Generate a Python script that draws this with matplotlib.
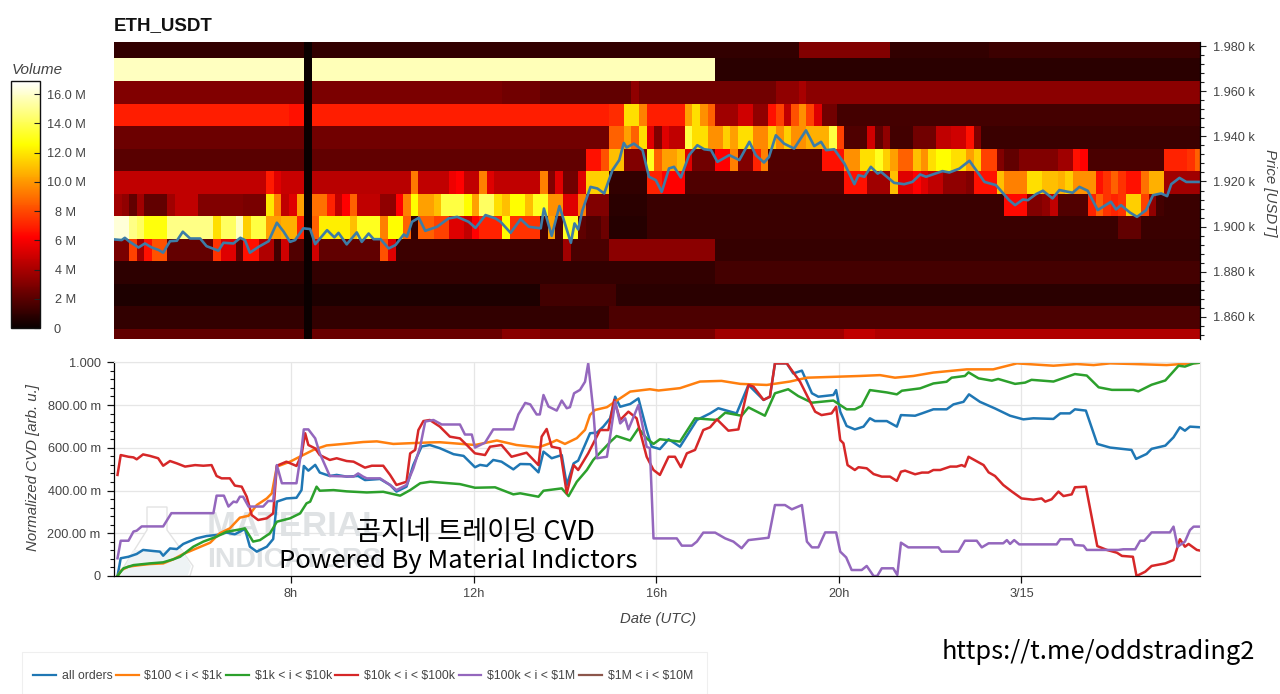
import matplotlib
matplotlib.use('Agg')
import matplotlib.pyplot as plt
from matplotlib.lines import Line2D
from matplotlib.patches import Polygon, Rectangle
from matplotlib.ticker import FixedLocator, FuncFormatter
from matplotlib.transforms import ScaledTranslation
import numpy as np

# ── heatmap: volume in M per 10 minute column, one row per price bin ──
COL_START_H = 4.123
ROW_PRICES = [1980, 1970, 1960, 1950, 1940, 1930, 1920, 1910, 1900, 1890, 1880, 1870, 1860, 1850]

V1980 = [1.0]*25 + [0] + [1.0]*64 + [3.0]*12 + [1.0]*13 + [1.3]*28
V1970 = [15.8]*25 + [0] + [15.7]*53 + [0.85]*64
V1960 = ([3.0]*25 + [0] + [2.9]*25 + [2.6]*5 + [2.2]*12 + [3.4] + [2.6]*18 + [3.4]*3 + [4.0]
         + [3.3]*52)
V1950 = ([6.9]*23 + [6.6]*2 + [0] + [6.9]*39 + [7.3]*2 + [11.8]*2 + [9.4] + [6.9]*5 + [10.2, 11.8, 9.8, 8.6]
         + [3.8]*3 + [5.0]*2 + [3.4]*2 + [6.6, 7.8, 4.6, 8.2, 9.8, 7.8, 5.4] + [2.6]*2 + [1.5]*48)
V1940 = ([2.5]*25 + [0] + [2.6]*39 + [8.6]*2 + [10.2, 8.6, 11.8, 5.4, 3.0, 5.4] + [4.6]*2 + [13.7]
         + [11.8]*2 + [9.8]*2 + [11.4, 10.2] + [11.8]*2 + [9.6]*2 + [11.4, 9.8, 11.4] + [9.8]*2
         + [10.6]*3 + [13.7, 7.8] + [1.75]*3 + [5.0, 2.15, 3.4] + [1.4]*3 + [2.6]*3 + [4.6]*2
         + [5.0]*2 + [6.6, 3.0] + [1.2]*29)
V1930 = ([2.0]*25 + [0] + [2.2]*36 + [6.6]*2 + [8.2] + [11.0]*2 + [3.0]*3 + [13.1, 8.6] + [10.2]*2
         + [11.0, 5.4] + [2.6]*3 + [6.2]*2 + [9.4] + [3.0]*2 + [7.0, 9.4] + [1.8]*7 + [6.6]*3
         + [9.8]*2 + [11.8]*2 + [13.1, 11.4, 10.2] + [8.6]*2 + [11.0, 9.8, 11.8] + [12.6]*2
         + [11.8]*2 + [10.2, 11.4] + [7.8]*2 + [3.0] + [2.2]*2 + [3.0]*5 + [3.8]*2 + [6.6, 6.2]
         + [1.6]*10 + [7.0]*3 + [7.4, 8.6])
V1920 = ([4.6]*20 + [6.8, 5.4] + [4.8]*3 + [0] + [4.4]*13 + [9.2] + [4.6]*4 + [5.8, 6.2] + [4.6]*2
         + [9.4, 5.4] + [4.6]*6 + [9.4, 3.0, 5.4] + [2.6]*2 + [5.4] + [11.4]*3 + [1.0]*5 + [7.0]*2
         + [6.2]*3 + [1.75]*21 + [6.6]*3 + [3.8]*3 + [11.0] + [5.4]*2 + [6.2, 5.4]
         + [4.6]*2 + [3.4]*3 + [3.0] + [6.6]*3 + [11.0] + [9.4]*3 + [11.8]*2 + [11.0]*2
         + [10.6, 11.4] + [9.8]*3 + [6.6, 7.4, 8.6, 7.4] + [6.6]*2 + [9.0] + [10.6]*2 + [3.8]*5)
V1910 = ([3.8, 3.4, 2.2, 3.8] + [2.2]*3 + [3.8] + [4.6]*3 + [3.0]*6 + [2.8]*3 + [12.0, 9.4, 4.6, 5.4, 10.2, 0]
         + [9.0]*2 + [7.0, 4.6, 6.2, 8.6] + [4.6]*3 + [3.4]*2 + [6.2, 9.4, 12.6, 10.2, 10.2, 11.0]
         + [13.7]*3 + [12.6, 10.2] + [14.2]*2 + [11.8, 11.0] + [12.6]*2 + [11.0] + [13.1]*2 + [9.8]*2
         + [5.4]*2 + [9.4] + [3.0]*3 + [0.8]*5 + [1.2]*47 + [6.4]*3 + [3.0]*2 + [3.4, 4.6] + [1.8]*4
         + [7.0, 8.6, 7.4, 7.0, 7.4] + [11.4]*2 + [7.8, 3.4, 1.5] + [1.2]*5)
V1900 = ([16.2]*2 + [14.8, 14.2] + [12.8]*3 + [14.8]*6 + [11.8] + [14.2]*2 + [15.8, 11.4] + [13.7]*2
         + [10.2]*2 + [10.6]*2 + [7.0, 0, 8.6] + [12.2]*4 + [11.0] + [13.1]*3 + [9.4] + [12.6]*2
         + [8.6, 1.0] + [8.6]*2 + [7.8]*2 + [5.4]*2 + [4.6, 6.2] + [7.0]*3 + [12.6] + [7.4]*4
         + [1.5, 10.2, 1.75] + [13.1]*2 + [2.15] + [1.75]*2 + [2.5] + [0.7]*5 + [1.2]*62 + [2.2]*3
         + [1.2]*8)
V1890 = ([2.8]*2 + [7.8, 3.8, 6.6] + [8.2]*2 + [2.3]*6 + [7.4] + [5.4]*2 + [2.2] + [6.6]*2 + [4.2]*2
         + [1.4, 5.0] + [1.8]*2 + [0, 5.0] + [2.2]*8 + [8.2, 5.4] + [1.3]*22 + [3.8] + [1.6]*5
         + [3.3]*14 + [1.1]*64)
V1880 = [0.9]*25 + [0] + [1.0]*53 + [1.5]*64
V1870 = [0.5]*25 + [0] + [0.5]*30 + [1.4]*10 + [0.8]*77
V1860 = [1.0]*25 + [0] + [1.0]*39 + [1.7]*78
V1850 = [2.2]*25 + [0] + [2.4]*25 + [3.2]*5 + [2.8]*23 + [3.8]*17 + [4.6]*4 + [4.2]*43

# ── price line ──
PRICE_T = [4.12, 4.29, 4.36, 4.47, 4.66, 4.80, 4.95, 5.10, 5.20, 5.35, 5.50, 5.63, 5.79, 6.01, 6.15, 6.41,
           6.52, 6.74, 6.89, 6.99, 7.10, 7.29, 7.51, 7.69, 7.84, 7.98, 8.09, 8.27, 8.42, 8.53, 8.79, 8.95,
           9.04, 9.22, 9.44, 9.55, 9.70, 9.81, 9.96, 10.14, 10.29, 10.47, 10.54, 10.65, 10.80, 10.94,
           11.20, 11.45, 11.64, 11.89, 12.04, 12.26, 12.48, 12.59, 12.81, 13.03, 13.21, 13.47, 13.54,
           13.71, 13.88, 14.13, 14.21, 14.29, 14.38, 14.56, 14.71, 14.86, 15.04, 15.19, 15.29, 15.35,
           15.51, 15.70, 15.84, 15.99, 16.12, 16.28, 16.39, 16.54, 16.72, 16.90, 17.05, 17.20, 17.34,
           17.60, 17.82, 18.04, 18.18, 18.36, 18.47, 18.62, 18.80, 19.02, 19.28, 19.46, 19.61, 19.72,
           19.90, 20.12, 20.34, 20.43, 20.56, 20.70, 20.85, 20.92, 21.21, 21.43, 21.61, 21.78, 21.91,
           22.27, 22.42, 22.64, 22.86, 23.19, 23.44, 23.73, 23.86, 24.03, 24.14, 24.32, 24.47, 24.68,
           24.83, 25.12, 25.27, 25.45, 25.67, 25.96, 26.07, 26.18, 26.37, 26.53, 26.73, 26.88, 27.06,
           27.19, 27.28, 27.46, 27.61, 27.91]
PRICE_V = [1894.3, 1894.0, 1895.0, 1893.2, 1890.7, 1892.5, 1890.7, 1889.6, 1888.4, 1893.5, 1893.7, 1897.7,
           1894.7, 1894.7, 1891.3, 1889.3, 1892.8, 1892.5, 1895.0, 1894.0, 1888.4, 1891.0, 1893.5, 1901.7,
           1897.7, 1893.2, 1894.0, 1899.2, 1898.9, 1892.2, 1898.4, 1895.2, 1897.2, 1892.1, 1897.4, 1893.2,
           1896.9, 1894.4, 1894.4, 1890.3, 1891.8, 1896.5, 1895.5, 1902.1, 1903.9, 1898.1, 1899.9, 1903.6,
           1904.3, 1902.1, 1899.4, 1905.1, 1903.6, 1902.1, 1897.2, 1903.3, 1899.9, 1899.2, 1908.0, 1895.9,
           1909.1, 1892.8, 1901.4, 1898.7, 1907.0, 1917.6, 1916.9, 1914.7, 1925.0, 1929.5, 1937.1, 1935.1,
           1936.8, 1933.9, 1922.1, 1920.6, 1915.4, 1925.8, 1926.5, 1921.8, 1931.7, 1936.1, 1934.3, 1933.9,
           1928.7, 1931.7, 1929.5, 1937.6, 1931.7, 1928.4, 1930.9, 1940.5, 1936.8, 1934.6, 1942.7, 1935.7,
           1937.6, 1933.9, 1934.3, 1928.0, 1918.8, 1922.8, 1922.1, 1926.5, 1923.5, 1924.3, 1919.4, 1918.8,
           1919.8, 1923.1, 1922.1, 1924.6, 1924.0, 1925.7, 1929.2, 1919.8, 1918.4, 1911.7, 1909.5, 1912.0,
           1911.7, 1914.4, 1915.9, 1912.5, 1916.2, 1915.0, 1917.6, 1915.9, 1907.3, 1911.0, 1907.6, 1909.5,
           1906.3, 1904.3, 1907.3, 1913.9, 1914.7, 1913.5, 1918.8, 1921.6, 1919.8, 1919.8]

# ── normalized CVD, values in milli units ──
ALL_T = [4.20, 4.27, 4.44, 4.62, 4.76, 4.98, 5.13, 5.20, 5.35, 5.50, 5.64, 5.93, 6.15, 6.37, 6.59, 6.77, 6.99,
         7.10, 7.25, 7.47, 7.61, 7.69, 7.90, 8.12, 8.23, 8.28, 8.38, 8.53, 8.63, 8.85, 9.00, 9.22, 9.47, 9.62,
         9.95, 10.17, 10.31, 10.53, 10.68, 10.86, 11.04, 11.26, 11.56, 11.78, 12.03, 12.14, 12.29, 12.43, 12.61,
         12.87, 13.02, 13.24, 13.42, 13.53, 13.71, 13.93, 14.04, 14.19, 14.29, 14.55, 14.70, 14.84, 14.99, 15.10,
         15.21, 15.43, 15.61, 15.79, 15.90, 16.08, 16.27, 16.52, 16.89, 17.18, 17.36, 17.76, 18.02, 18.35, 18.49,
         18.60, 18.86, 19.00, 19.19, 19.41, 19.55, 19.88, 19.94, 20.03, 20.17, 20.35, 20.54, 20.68, 20.79, 21.05,
         21.27, 21.36, 21.67, 21.82, 22.07, 22.36, 22.51, 22.73, 22.85, 23.09, 23.42, 23.75, 24.04, 24.26, 24.70,
         24.85, 25.06, 25.17, 25.41, 25.66, 25.94, 26.41, 26.51, 26.74, 26.85, 27.15, 27.33, 27.47, 27.58, 27.69,
         27.91]
ALL_V = [0, 83, 90, 103, 122, 117, 114, 95, 129, 126, 150, 176, 187, 192, 203, 195, 220,
         137, 114, 137, 173, 348, 363, 366, 402, 515, 493, 520, 484, 468, 473, 465, 468, 449,
         454, 426, 395, 418, 520, 606, 613, 598, 570, 562, 509, 520, 515, 543, 535,
         499, 524, 523, 485, 582, 551, 566, 426, 527, 540, 668, 671, 699, 738, 839,
         792, 805, 831, 683, 605, 594, 640, 605, 730, 761, 785, 761, 894, 824, 839,
         995, 995, 948, 961, 855, 839, 847, 870, 769, 702, 686, 699, 738, 725, 725,
         699, 753, 750, 761, 780, 780, 803, 815, 850, 815, 784, 750, 733, 738, 735,
         761, 761, 780, 774, 618, 601, 590, 548, 571, 595, 610, 649, 696, 680, 699,
         696]

LOW_T = [4.20, 4.29, 4.44, 4.69, 4.91, 5.20, 5.42, 5.64, 5.93, 6.23, 6.44, 6.66, 6.88, 7.07, 7.25, 7.47, 7.58, 7.69,
         7.98, 8.20, 8.49, 8.78, 9.15, 9.58, 9.88, 10.24, 10.68, 11.04, 11.26, 11.56, 12.03, 12.51, 12.94, 13.42,
         13.67, 13.82, 14.00, 14.26, 14.44, 14.55, 14.66, 14.92, 15.10, 15.43, 15.86, 16.05, 16.52, 16.96, 17.43,
         17.84, 18.42, 18.93, 19.30, 20.03, 20.46, 20.90, 21.23, 21.63, 22.07, 22.80, 23.38, 23.90, 24.70, 25.21,
         25.58, 25.94, 26.45, 27.18, 27.91]
LOW_V = [0, 28, 44, 51, 56, 59, 78, 103, 129, 156, 200, 223, 273, 282, 332, 363, 387, 512,
         535, 559, 590, 611, 618, 627, 630, 618, 622, 625, 626, 621, 613, 634, 613, 602,
         621, 636, 618, 645, 684, 754, 777, 790, 816, 863, 874, 868, 879, 910, 913,
         899, 894, 910, 928, 933, 936, 940, 928, 936, 952, 967, 967, 995, 984, 992,
         987, 995, 992, 987, 998]

MID_T = [4.20, 4.33, 4.55, 4.91, 5.20, 5.42, 5.57, 5.86, 6.08, 6.37, 6.59, 6.88, 6.99, 7.17, 7.32, 7.54, 7.69, 7.98,
         8.20, 8.34, 8.42, 8.56, 8.63, 8.93, 9.22, 9.66, 10.02, 10.39, 10.61, 10.83, 11.05, 11.70, 12.03, 12.47,
         12.87, 13.02, 13.42, 13.53, 13.93, 14.08, 14.26, 14.48, 14.62, 15.00, 15.13, 15.43, 15.61, 15.79, 15.94,
         16.08, 16.52, 16.85, 17.33, 17.51, 17.87, 18.02, 18.38, 18.60, 18.89, 19.11, 19.41, 19.88, 20.03, 20.17,
         20.35, 20.50, 20.68, 21.05, 21.27, 21.38, 21.78, 22.07, 22.36, 22.47, 22.76, 22.84, 23.06, 23.35, 23.49,
         23.86, 24.08, 24.22, 24.70, 25.17, 25.43, 25.69, 25.98, 26.45, 26.56, 26.85, 27.15, 27.44, 27.58, 27.77,
         27.91]
MID_V = [0, 36, 51, 59, 64, 78, 90, 137, 161, 184, 207, 218, 223, 161, 168, 200, 254, 270,
         293, 340, 348, 418, 399, 402, 396, 391, 394, 376, 402, 434, 441, 430, 413, 415,
         382, 387, 371, 399, 410, 374, 441, 496, 543, 629, 655, 634, 691, 644, 618,
         640, 629, 738, 730, 764, 750, 789, 750, 855, 874, 842, 811, 821, 800, 780,
         780, 796, 870, 859, 850, 867, 878, 901, 909, 928, 936, 953, 925, 914, 922,
         899, 905, 918, 910, 945, 938, 883, 871, 871, 864, 895, 915, 984, 980, 995,
         998]

BIG_T = [4.20, 4.27, 4.44, 4.55, 4.62, 4.76, 4.91, 5.09, 5.20, 5.35, 5.50, 5.68, 5.90, 6.08, 6.26, 6.37, 6.48, 6.66,
         6.77, 6.92, 7.03, 7.14, 7.28, 7.47, 7.61, 7.69, 7.90, 8.12, 8.23, 8.31, 8.38, 8.53, 8.63, 8.85, 9.00, 9.22,
         9.37, 9.62, 9.77, 10.02, 10.17, 10.31, 10.53, 10.61, 10.72, 10.79, 10.90, 11.04, 11.26, 11.48, 11.70, 11.85,
         12.03, 12.25, 12.36, 12.61, 12.83, 13.16, 13.42, 13.49, 13.60, 13.71, 13.89, 14.04, 14.19, 14.29, 14.51,
         14.77, 14.95, 15.08, 15.21, 15.39, 15.57, 15.79, 15.94, 16.08, 16.27, 16.41, 16.54, 16.67, 16.85, 17.03,
         17.18, 17.33, 17.58, 17.80, 18.02, 18.13, 18.35, 18.49, 18.60, 18.86, 19.15, 19.48, 19.62, 19.84, 19.94,
         20.03, 20.10, 20.19, 20.35, 20.43, 20.61, 20.76, 20.94, 21.12, 21.27, 21.36, 21.45, 21.67, 21.82, 21.96,
         22.07, 22.22, 22.44, 22.58, 22.69, 22.76, 22.84, 23.17, 23.28, 23.42, 23.60, 23.79, 24.00, 24.26, 24.44,
         24.52, 24.66, 24.81, 24.92, 25.10, 25.17, 25.41, 25.66, 25.87, 26.09, 26.20, 26.44, 26.52, 26.71, 26.85,
         27.15, 27.33, 27.47, 27.58, 27.66, 27.84, 27.91]
BIG_V = [473, 566, 558, 555, 546, 569, 562, 551, 516, 538, 527, 512, 519, 516, 519, 468, 457, 457,
         423, 418, 371, 285, 262, 270, 293, 516, 535, 515, 566, 668, 613, 597, 566, 543, 551, 538,
         535, 507, 516, 516, 473, 426, 441, 574, 590, 683, 725, 730, 699, 652, 644, 613,
         574, 566, 605, 613, 558, 577, 519, 652, 688, 605, 597, 387, 519, 496, 574,
         683, 683, 824, 730, 769, 738, 558, 496, 473, 558, 558, 509, 574, 590, 683,
         696, 733, 680, 686, 894, 886, 824, 839, 995, 995, 909, 769, 753, 761, 792,
         636, 621, 519, 496, 509, 504, 477, 465, 465, 445, 488, 493, 476, 484, 484,
         496, 496, 512, 512, 519, 512, 558, 519, 485, 468, 426, 395, 363, 357, 363,
         348, 359, 395, 374, 382, 415, 418, 140, 122, 109, 94, 90, 0, 20, 47,
         59, 75, 172, 137, 150, 122, 119]

HUGE_T = [4.20, 4.27, 4.44, 4.55, 4.62, 4.73, 5.20, 5.38, 6.30, 6.37, 6.53, 6.63, 6.74, 6.81, 6.88, 6.95, 7.07, 7.39,
          7.50, 7.61, 7.69, 7.80, 8.12, 8.23, 8.28, 8.38, 8.53, 8.63, 8.85, 9.37, 9.47, 9.58, 9.66, 9.95, 10.17,
          10.31, 10.53, 10.68, 10.83, 10.94, 11.12, 11.30, 11.70, 11.81, 11.96, 12.03, 12.25, 12.43, 12.87, 12.98,
          13.13, 13.24, 13.38, 13.45, 13.53, 13.64, 13.82, 13.93, 14.04, 14.11, 14.20, 14.33, 14.44, 14.51, 14.62,
          14.70, 14.92, 15.00, 15.10, 15.21, 15.32, 15.39, 15.61, 15.79, 15.86, 15.94, 16.45, 16.56, 16.78, 16.89,
          17.03, 17.29, 17.51, 17.69, 17.87, 18.02, 18.46, 18.60, 18.82, 18.97, 19.19, 19.30, 19.41, 19.55, 19.70,
          19.94, 20.03, 20.16, 20.28, 20.50, 20.61, 20.76, 20.84, 20.94, 21.19, 21.28, 21.36, 21.52, 22.18, 22.25,
          22.62, 22.76, 23.02, 23.13, 23.28, 23.60, 23.68, 23.75, 23.84, 23.95, 24.77, 24.85, 25.10, 25.17, 25.36,
          25.43, 26.12, 26.23, 26.49, 26.60, 26.69, 26.85, 27.25, 27.33, 27.42, 27.58, 27.69, 27.77, 27.91]
HUGE_V = [83, 165, 165, 208, 212, 232, 232, 294, 294, 376, 376, 325, 348, 345, 371, 371, 325, 325,
          351, 351, 519, 434, 434, 590, 686, 686, 644, 574, 468, 465, 480, 465, 457, 457, 426,
          402, 426, 504, 606, 723, 730, 709, 709, 662, 662, 601, 624, 686, 686, 756,
          810, 803, 756, 756, 847, 793, 774, 821, 785, 790, 855, 871, 909, 995, 777,
          551, 558, 667, 815, 714, 738, 686, 800, 605, 598, 176, 176, 142, 142, 161,
          203, 203, 176, 161, 130, 168, 179, 332, 332, 312, 332, 161, 134, 134, 204,
          204, 114, 87, 28, 28, 47, 0, 0, 36, 36, 5, 156, 134, 134, 114,
          114, 165, 165, 134, 153, 153, 168, 150, 168, 148, 148, 172, 172, 145, 142,
          122, 122, 125, 125, 165, 165, 204, 204, 231, 137, 161, 215, 231, 231]

LEGEND_LABELS = ['all orders', r'\$100 < i < \$1k', r'\$1k < i < \$10k', r'\$10k < i < \$100k',
                 r'\$100k < i < \$1M', r'\$1M < i < \$10M']
LINE_COLORS = ['#1f77b4', '#ff7f0e', '#2ca02c', '#d62728', '#9467bd', '#8c564b']

PRICE_TICKS = [1860, 1880, 1900, 1920, 1940, 1960, 1980]
VOLUME_TICKS = [0, 2, 4, 6, 8, 10, 12, 14, 16]
VOLUME_LABELS = ['0', '2 M', '4 M', '6 M', '8 M', '10.0 M', '12.0 M', '14.0 M', '16.0 M']
CVD_TICKS = [0, 200, 400, 600, 800, 1000]
CVD_LABELS = ['0', '200.00 m', '400.00 m', '600.00 m', '800.00 m', '1.000']
TIME_TICKS = [8, 12, 16, 20, 24]
TIME_LABELS = ['8h', '12h', '16h', '20h', '3/15']

W, H = 1280, 694
TXT = '#444444'
plt.rcParams['font.family'] = ['Liberation Sans', 'DejaVu Sans']


def box(left, top, right, bottom):
    """픽셀 좌표 → figure 비율"""
    return [left / W, 1 - bottom / H, (right - left) / W, (bottom - top) / H]


def fx(x, y):
    return x / W, 1 - y / H


fig = plt.figure(figsize=(W / 100, H / 100), dpi=100, facecolor='white')

# 히트맵
ax = fig.add_axes(box(114, 42, 1200, 339))
heat = np.array([V1980, V1970, V1960, V1950, V1940, V1930, V1920, V1910, V1900, V1890,
                 V1880, V1870, V1860, V1850])
x_edges = COL_START_H + np.arange(heat.shape[1] + 1) / 6
y_edges = np.array(ROW_PRICES + [ROW_PRICES[-1] - 10]) + 4.6
mesh = ax.pcolormesh(x_edges, y_edges, heat, cmap='hot', vmin=0, vmax=16.9, shading='flat', rasterized=True)
ax.plot(PRICE_T, PRICE_V, color='#3d7ca6', lw=1.9, solid_joinstyle='round')
ax.set_xlim(4.123, 27.91)
ax.set_ylim(1850.1, 1981.9)
ax.set_xticks([])
ax.yaxis.tick_right()
ax.set_yticks(PRICE_TICKS)
ax.yaxis.set_major_formatter(FuncFormatter(lambda v, _: f'{v / 1000:.3f} k'))
ax.yaxis.set_minor_locator(FixedLocator(np.arange(1852, 1982, 4)))
ax.tick_params(axis='y', which='major', length=4.5, width=0.8, color='#222222', pad=4.8,
               labelcolor=TXT, labelsize=9.2)
ax.tick_params(axis='y', which='minor', length=2.8, width=0.8, color='#222222')
for name, sp in ax.spines.items():
    sp.set_visible(name == 'right')
ax.spines['right'].set_linewidth(0.9)
fig.text(*fx(114, 26), 'ETH_USDT', fontsize=13.5, fontweight='bold', color='#111111', va='center', ha='left')
fig.text(*fx(1270, 193), 'Price [USDT]', fontsize=10.8, style='italic', color=TXT, rotation=-90,
         va='center', ha='center')

# 컬러바
cax = fig.add_axes(box(11, 81, 40, 328))
cb = fig.colorbar(mesh, cax=cax)
cb.set_ticks(VOLUME_TICKS, labels=VOLUME_LABELS)
cb.outline.set_linewidth(1.0)
cb.outline.set_edgecolor('#111111')
cax.tick_params(axis='y', which='major', direction='in', length=4.3, width=0.8, color='#222222',
                pad=18.7, labelcolor=TXT, labelsize=9.2)
cax.minorticks_off()
for lab in cax.get_yticklabels():
    lab.set_ha('center')
zero_lab = cax.get_yticklabels()[0]
zero_lab.set_transform(zero_lab.get_transform() + ScaledTranslation(-9 / 100, 0, fig.dpi_scale_trans))
fig.text(*fx(12, 70), 'Volume', fontsize=11, style='italic', color=TXT, va='center', ha='left')

# CVD
ax2 = fig.add_axes(box(114, 362.3, 1200, 576))
ax2.grid(True, color='#e6e6e6', lw=0.9, zorder=0)
ax2.set_axisbelow(True)

# 워터마크 (Material Indicators)
ax2.add_patch(Polygon([fx(147, 507), fx(167, 507), fx(167, 530), fx(193, 566), fx(190, 576),
                       fx(118, 576), fx(147, 530)], closed=True, transform=fig.transFigure,
                      facecolor='white', edgecolor='#e3e3e3', lw=1.0, zorder=0.6, clip_on=False))
ax2.add_patch(Polygon([fx(133, 550), fx(182, 550), fx(191, 566), fx(188, 575), fx(121, 575)], closed=True,
                      transform=fig.transFigure, facecolor='#eef3f5', edgecolor='none', zorder=0.65,
                      clip_on=False))
wm = dict(fontweight='bold', color='#dfe2e4', ha='left', va='center', transform=fig.transFigure, zorder=0.7)
ax2.text(*fx(207, 526), 'MATERIAL', fontsize=25, **wm)
ax2.text(*fx(207, 560), 'INDICATORS', fontsize=20.5, **wm)

series = [(ALL_T, ALL_V), (LOW_T, LOW_V), (MID_T, MID_V), (BIG_T, BIG_V), (HUGE_T, HUGE_V)]
for (t, v), color in zip(series, LINE_COLORS):
    ax2.plot(t, v, color=color, lw=1.8, solid_joinstyle='round', zorder=2)
ax2.set_xlim(4.123, 27.91)
ax2.set_ylim(0, 1000)
ax2.set_xticks(TIME_TICKS, labels=TIME_LABELS)
ax2.set_yticks(CVD_TICKS, labels=CVD_LABELS)
ax2.yaxis.set_minor_locator(FixedLocator(np.arange(0, 1001, 40)))
ax2.tick_params(axis='x', length=5, width=0.9, color='#111111', pad=3.7, labelcolor=TXT, labelsize=9.2)
ax2.tick_params(axis='y', which='major', length=5, width=0.9, color='#111111', pad=4.6,
                labelcolor=TXT, labelsize=9.2)
ax2.tick_params(axis='y', which='minor', length=3, width=0.8, color='#111111')
ax2.spines['top'].set_color('#e6e6e6')
ax2.spines['right'].set_color('#e6e6e6')
ax2.spines['left'].set_linewidth(0.9)
ax2.spines['bottom'].set_linewidth(0.9)
fig.text(*fx(33, 468), 'Normalized CVD [arb. u.]', fontsize=10.8, style='italic', color=TXT, rotation=90,
         va='center', ha='center')
fig.text(*fx(658, 618.5), 'Date (UTC)', fontsize=10.7, style='italic', color=TXT, va='center', ha='center')

# 범례
fig.add_artist(Rectangle(fx(22, 694), 685 / W, 42 / H, transform=fig.transFigure, facecolor='white',
                         edgecolor='#efefef', lw=0.8))
handles = [Line2D([], [], color=c, lw=1.6) for c in LINE_COLORS]
fig.legend(handles, LEGEND_LABELS, ncols=6, loc='center left', bbox_to_anchor=fx(33, 676), frameon=False,
           fontsize=8.85, labelcolor=TXT, handlelength=1.85, handletextpad=0.47, columnspacing=0.3,
           borderpad=0, borderaxespad=0)

# 오버레이 글자
ko = ['Noto Sans CJK KR', 'DejaVu Sans']
fig.text(*fx(475.5, 532), '곰지네 트레이딩 CVD', family=ko, fontsize=19.6, color='black', ha='center', va='center')
fig.text(*fx(458, 561.5), 'Powered By Material Indictors', family=ko, fontsize=18.4, color='black',
         ha='center', va='center')
fig.text(*fx(1098, 652), 'https://t.me/oddstrading2', family=ko, fontsize=18.3, color='black',
         ha='center', va='center')

fig.savefig('out.png', dpi=100)
